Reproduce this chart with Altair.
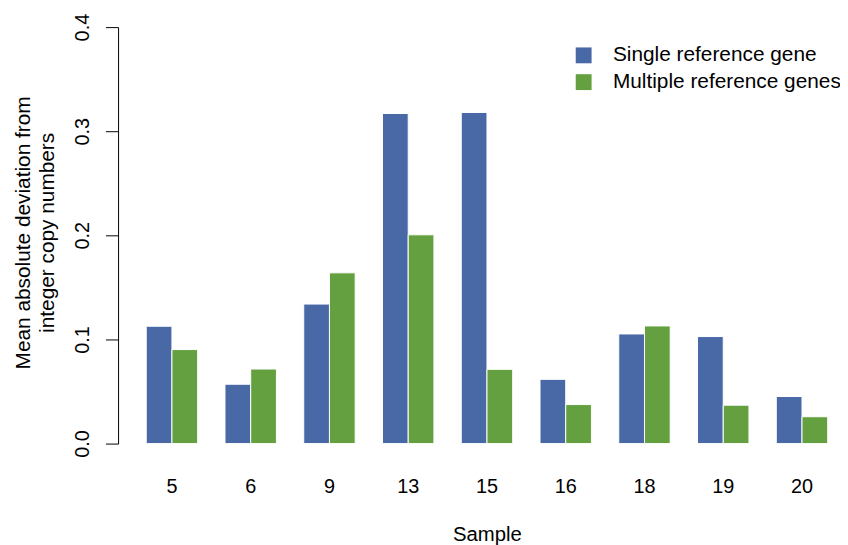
import altair as alt
import pandas as pd

samples = ["5", "6", "9", "13", "15", "16", "18", "19", "20"]
methods = ["Single reference gene", "Multiple reference genes"]
single = [0.1127, 0.057, 0.134, 0.317, 0.318, 0.0617, 0.1053, 0.1028, 0.0452]
multiple = [0.0903, 0.0716, 0.164, 0.2005, 0.0713, 0.0375, 0.113, 0.0369, 0.0258]
colors = ["#4968A6", "#64A03F"]
y_ticks = [0.0, 0.1, 0.2, 0.3, 0.4]

rows = []
for s, a, b in zip(samples, single, multiple):
    rows.append({"Sample": s, "Method": methods[0], "Value": a})
    rows.append({"Sample": s, "Method": methods[1], "Value": b})
df = pd.DataFrame(rows)

FONT = "Liberation Sans"

chart = alt.Chart(df).mark_bar(stroke="white", strokeWidth=1).encode(
    x=alt.X(
        "Sample:N",
        sort=samples,
        scale=alt.Scale(paddingInner=0.347, paddingOuter=0.156, round=False),
        axis=alt.Axis(
            title="Sample",
            labelAngle=0,
            domain=False,
            ticks=False,
            tickSize=0,
            labelPadding=33,
            labelFontSize=20,
            titleFontSize=20.5,
            titleFontWeight="normal",
            titleY=98,
            titleBaseline="alphabetic",
        ),
    ),
    xOffset=alt.XOffset(
        "Method:N", sort=methods,
        scale=alt.Scale(paddingInner=0, paddingOuter=0, round=False)
    ),
    y=alt.Y(
        "Value:Q",
        scale=alt.Scale(domain=[0, 0.4], nice=False, zero=True),
        axis=alt.Axis(
            values=y_ticks,
            format=".1f",
            offset=16,
            tickSize=12.7,
            labelAngle=270,
            labelAlign="center",
            labelBaseline="alphabetic",
            labelPadding=17,
            labelFontSize=20,
            grid=False,
            domainColor="black",
            tickColor="black",
            title=["Mean absolute deviation from", "integer copy numbers"],
            titleX=-89.5,
            titleY=207,
            titleAngle=270,
            titleAlign="center",
            titleBaseline="alphabetic",
            titleLineHeight=24,
            titleFontSize=21,
            titleFontWeight="normal",
        ),
    ),
    color=alt.Color(
        "Method:N",
        sort=methods,
        scale=alt.Scale(domain=methods, range=colors),
        legend=alt.Legend(
            title=None,
            orient="none",
            legendX=443,
            legendY=18,
            symbolType="square",
            symbolSize=256,
            symbolStrokeWidth=0,
            symbolOpacity=1,
            labelFontSize=21,
            labelOffset=19,
            rowPadding=5,
            padding=0,
            labelLimit=400,
        ),
    ),
).properties(
    width=712,
    height=420,
    padding={"left": 127, "top": 17, "right": 0, "bottom": 100},
    autosize=alt.AutoSizeParams(type="none"),
).configure_view(stroke=None).configure_axis(
    labelFont=FONT, titleFont=FONT, labelColor="black", titleColor="black"
).configure_legend(labelFont=FONT, labelColor="black")

chart.save("out.html", embed_options={"renderer": "svg", "actions": False})
